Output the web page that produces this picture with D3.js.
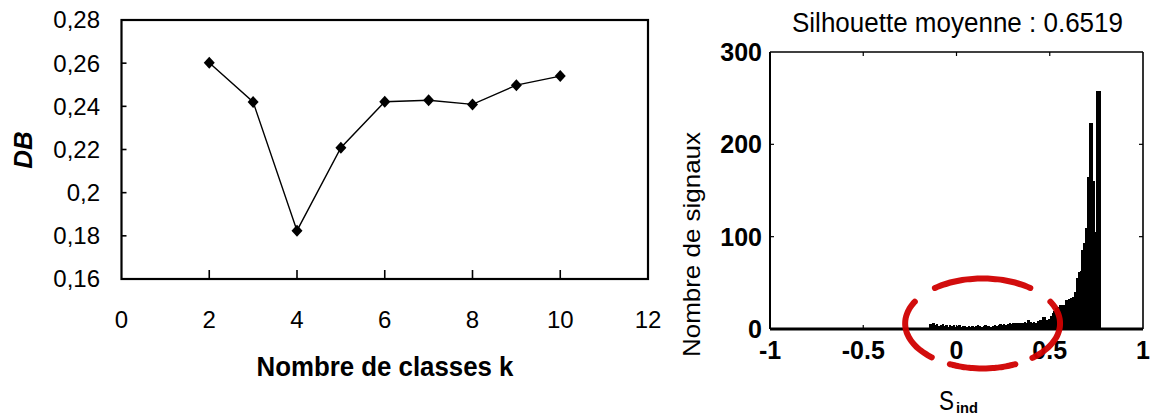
<!DOCTYPE html>
<html>
<head>
<meta charset="utf-8">
<script src="https://cdn.jsdelivr.net/npm/d3@7"></script>
<style>
  html, body { margin: 0; padding: 0; background: #fff; }
  svg { display: block; }
  text { font-family: "Liberation Sans", Arial, Helvetica, sans-serif; fill: #000; }
</style>
</head>
<body>
<svg id="chart" width="1150" height="418"></svg>
<script>
// ---------- Data: left chart (Davies-Bouldin index vs number of classes) ----------
const kValues  = [2, 3, 4, 5, 6, 7, 8, 9, 10];
const dbValues = [0.2602, 0.2420, 0.1824, 0.2208, 0.2421, 0.2428, 0.2409, 0.2498, 0.2540];
const leftXTicks = [0, 2, 4, 6, 8, 10, 12];
const leftYTicks = [0.16, 0.18, 0.20, 0.22, 0.24, 0.26, 0.28];

// ---------- Data: right chart (silhouette histogram) ----------
const silBinWidth = 0.01;
const silBinStart = -0.15;
const silCounts = [
  5, 5, 6, 4, 5, 3, 4, 5, 3, 4,      // -0.15 .. -0.06
  2, 4, 3, 4, 2, 3, 4, 2, 3, 3,      // -0.05 .. 0.04
  2, 3, 2, 3, 2, 3, 4, 3, 2, 3,      // 0.05 .. 0.14
  4, 3, 3, 2, 3, 4, 3, 4, 5, 4,      // 0.15 .. 0.24
  5, 4, 5, 6, 5, 7, 6, 7, 6, 7,      // 0.25 .. 0.34
  7, 8, 7, 10, 8, 7, 8, 7, 9, 10,    // 0.35 .. 0.44
  10, 13, 13, 10, 11, 14, 17, 20, 23, 24, // 0.45 .. 0.54
  26, 26, 26, 31, 31, 33, 34, 35, 40, 55, // 0.55 .. 0.64
  62, 63, 86, 93, 109, 165, 223, 223, 160, 105, // 0.65 .. 0.74
  258, 258                           // 0.75 .. 0.76
];
const rightXTicks = [-1, -0.5, 0, 0.5, 1];
const rightYTicks = [0, 100, 200, 300];
const silTitle = "Silhouette moyenne : 0.6519";
// annotation ellipse (data coordinates of centre)
const ringCentre = { s: 0.14, n: 6 };

const svg = d3.select("#chart");
svg.append("rect").attr("width", 1150).attr("height", 418).attr("fill", "#fff");

// ================= LEFT CHART =================
const xL = d3.scaleLinear().domain([0, 12]).range([121.5, 648]);
const yL = d3.scaleLinear().domain([0.16, 0.28]).range([279, 20]);
const gL = svg.append("g");

// frame
gL.append("rect")
  .attr("x", xL(0)).attr("y", yL(0.28))
  .attr("width", xL(12) - xL(0)).attr("height", yL(0.16) - yL(0.28))
  .attr("fill", "none").attr("stroke", "#000").attr("stroke-width", 2.2);

// inward ticks
gL.selectAll(".xt").data(leftXTicks.filter(d => d > 0 && d < 12)).join("line")
  .attr("x1", d => xL(d)).attr("x2", d => xL(d))
  .attr("y1", yL(0.16)).attr("y2", yL(0.16) - 9)
  .attr("stroke", "#000").attr("stroke-width", 1.6);
gL.selectAll(".yt").data(leftYTicks.filter(d => d > 0.161 && d < 0.279)).join("line")
  .attr("x1", xL(0)).attr("x2", xL(0) + 5)
  .attr("y1", d => yL(d)).attr("y2", d => yL(d))
  .attr("stroke", "#000").attr("stroke-width", 1.6);

// tick labels
gL.selectAll(".xl").data(leftXTicks).join("text")
  .attr("x", d => xL(d)).attr("y", 328)
  .attr("text-anchor", "middle").attr("font-size", 24)
  .text(d => d);
const fr = v => String(+v.toFixed(2)).replace(".", ",");
gL.selectAll(".yl").data(leftYTicks).join("text")
  .attr("x", 100).attr("y", d => yL(d)).attr("dy", "0.35em")
  .attr("text-anchor", "end").attr("font-size", 24)
  .text(fr);

// line + markers
const pts = kValues.map((k, i) => [k, dbValues[i]]);
gL.append("path")
  .attr("d", d3.line().x(d => xL(d[0])).y(d => yL(d[1]))(pts))
  .attr("fill", "none").attr("stroke", "#000").attr("stroke-width", 1.4);
gL.selectAll(".mk").data(pts).join("path")
  .attr("transform", d => `translate(${xL(d[0])},${yL(d[1])})`)
  .attr("d", "M0,-6L5.5,0L0,6L-5.5,0Z")
  .attr("fill", "#000");

// axis titles
gL.append("text")
  .attr("transform", `translate(32,150) rotate(-90)`)
  .attr("text-anchor", "middle").attr("font-size", 26)
  .attr("font-weight", "bold").attr("font-style", "italic")
  .text("DB");
gL.append("text")
  .attr("x", 385).attr("y", 376)
  .attr("text-anchor", "middle").attr("font-size", 27).attr("font-weight", "bold")
  .attr("textLength", 257).attr("lengthAdjust", "spacingAndGlyphs")
  .text("Nombre de classes k");

// ================= RIGHT CHART =================
const xR = d3.scaleLinear().domain([-1, 1]).range([770, 1143]);
const yR = d3.scaleLinear().domain([0, 300]).range([329, 52]);
const gR = svg.append("g");

// bars
const bins = silCounts.map((c, i) => ({ lo: silBinStart + i * silBinWidth, c }));
gR.selectAll(".bar").data(bins).join("rect")
  .attr("x", d => xR(d.lo))
  .attr("width", d => xR(d.lo + silBinWidth) - xR(d.lo) + 0.4)
  .attr("y", d => yR(d.c))
  .attr("height", d => yR(0) - yR(d.c))
  .attr("fill", "#000")
  .attr("shape-rendering", "crispEdges");

// frame
gR.append("line").attr("x1", xR(-1)).attr("x2", xR(1)).attr("y1", yR(300)).attr("y2", yR(300))
  .attr("stroke", "#000").attr("stroke-width", 1.6);
gR.append("line").attr("x1", xR(1)).attr("x2", xR(1)).attr("y1", yR(300)).attr("y2", yR(0))
  .attr("stroke", "#000").attr("stroke-width", 1.6);
gR.append("line").attr("x1", xR(-1)).attr("x2", xR(-1)).attr("y1", yR(300)).attr("y2", yR(0))
  .attr("stroke", "#000").attr("stroke-width", 2);
gR.append("line").attr("x1", xR(-1)).attr("x2", xR(1)).attr("y1", yR(0)).attr("y2", yR(0))
  .attr("stroke", "#000").attr("stroke-width", 2.8);

// inward ticks (mirrored)
const innerX = rightXTicks.filter(d => d > -1 && d < 1);
const innerY = rightYTicks.filter(d => d > 0 && d < 300);
innerX.forEach(d => {
  gR.append("line").attr("x1", xR(d)).attr("x2", xR(d)).attr("y1", yR(0)).attr("y2", yR(0) - 4)
    .attr("stroke", "#000").attr("stroke-width", 1.2);
  gR.append("line").attr("x1", xR(d)).attr("x2", xR(d)).attr("y1", yR(300)).attr("y2", yR(300) + 4)
    .attr("stroke", "#000").attr("stroke-width", 1.2);
});
innerY.forEach(d => {
  gR.append("line").attr("x1", xR(-1)).attr("x2", xR(-1) + 4).attr("y1", yR(d)).attr("y2", yR(d))
    .attr("stroke", "#000").attr("stroke-width", 1.2);
  gR.append("line").attr("x1", xR(1)).attr("x2", xR(1) - 4).attr("y1", yR(d)).attr("y2", yR(d))
    .attr("stroke", "#000").attr("stroke-width", 1.2);
});

// tick labels
gR.selectAll(".rxl").data(rightXTicks).join("text")
  .attr("x", d => xR(d)).attr("y", 359)
  .attr("text-anchor", "middle").attr("font-size", 25).attr("font-weight", "bold")
  .text(d => String(d));
gR.selectAll(".ryl").data(rightYTicks).join("text")
  .attr("x", 762).attr("y", d => yR(d)).attr("dy", "0.36em")
  .attr("text-anchor", "end").attr("font-size", 25).attr("font-weight", "bold")
  .text(d => d);

// title
gR.append("text")
  .attr("x", 957.5).attr("y", 32)
  .attr("text-anchor", "middle").attr("font-size", 27)
  .attr("textLength", 331).attr("lengthAdjust", "spacingAndGlyphs")
  .text(silTitle);

// y title
gR.append("text")
  .attr("transform", `translate(700,244.5) rotate(-90)`)
  .attr("text-anchor", "middle").attr("font-size", 24)
  .attr("textLength", 225).attr("lengthAdjust", "spacingAndGlyphs")
  .text("Nombre de signaux");

// x title S_ind
gR.append("text")
  .attr("x", 939).attr("y", 410)
  .attr("font-size", 28)
  .attr("textLength", 15).attr("lengthAdjust", "spacingAndGlyphs")
  .text("S");
gR.append("text")
  .attr("x", 956).attr("y", 413)
  .attr("font-size", 15).attr("font-weight", "bold")
  .attr("textLength", 22).attr("lengthAdjust", "spacingAndGlyphs")
  .text("ind");

// red annotation ring (hand-drawn dashed ellipse)
const cx = xR(ringCentre.s), cy = yR(ringCentre.n);
const rx = 77.5, ry = 45;
const arcs = [[232, 308], [-29, 50], [65, 115], [131, 209]];
const arcLine = d3.line().curve(d3.curveBasis);
arcs.forEach(([a0, a1]) => {
  const p = d3.range(0, 21).map(i => {
    const t = (a0 + (a1 - a0) * i / 20) * Math.PI / 180;
    return [cx + rx * Math.cos(t), cy + ry * Math.sin(t)];
  });
  gR.append("path").attr("d", arcLine(p))
    .attr("fill", "none").attr("stroke", "#d00000").attr("stroke-width", 6)
    .attr("stroke-linecap", "round").attr("opacity", 0.95);
});
</script>
</body>
</html>
